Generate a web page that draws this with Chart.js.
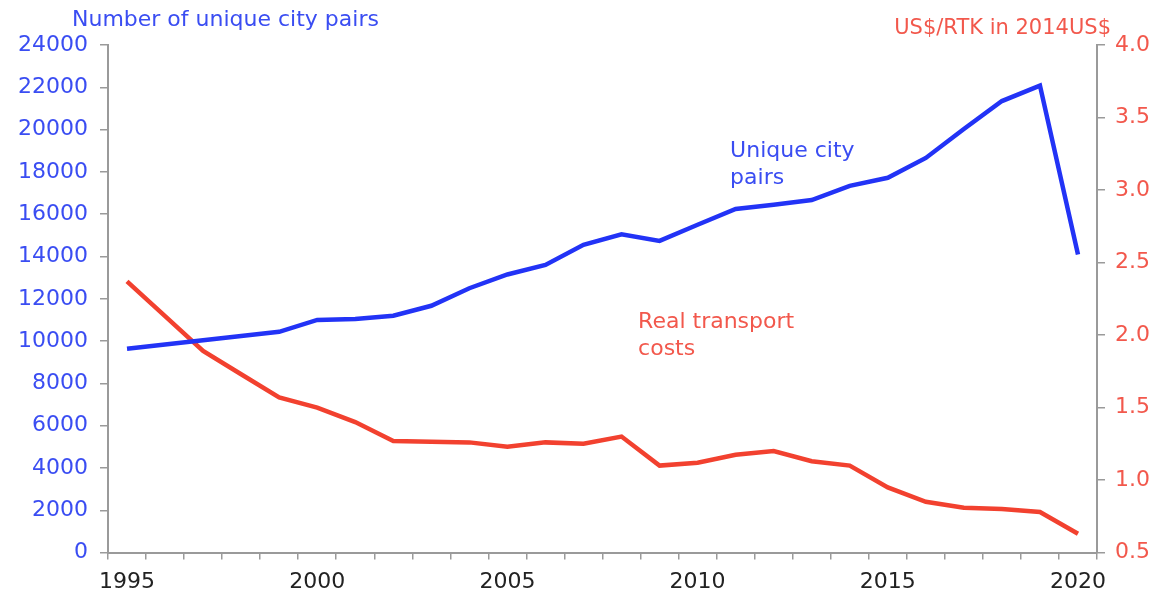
<!DOCTYPE html>
<html>
<head>
<meta charset="utf-8">
<script src="https://cdn.jsdelivr.net/npm/chart.js@4"></script>
<style>
    html, body { margin: 0; padding: 0; background: #fff; }
    #wrap { width: 1164px; height: 594px; position: relative; }
</style>
</head>
<body>
<div id="wrap"><canvas id="pairsChart"></canvas></div>
<script>
const years = ['1995', '1996', '1997', '1998', '1999', '2000', '2001', '2002', '2003', '2004',
    '2005', '2006', '2007', '2008', '2009', '2010', '2011', '2012', '2013', '2014',
    '2015', '2016', '2017', '2018', '2019', '2020'];

// unique city pairs, left axis
const cityPairs = [9640, 9840, 10040, 10240, 10440, 11000, 11050, 11200, 11670, 12500,
    13150, 13600, 14550, 15050, 14740, 15500, 16250, 16450, 16670, 17340,
    17720, 18660, 20030, 21350, 22080, 14100];

// real transport costs, US$/RTK in 2014US$, right axis
const transportCosts = [2.37, 2.13, 1.89, 1.73, 1.57, 1.50, 1.40, 1.27, 1.265, 1.26,
    1.23, 1.26, 1.25, 1.30, 1.10, 1.12, 1.175, 1.20, 1.13, 1.10,
    0.95, 0.85, 0.81, 0.80, 0.78, 0.63];

const leftTitle = 'Number of unique city pairs';
const rightTitle = 'US$/RTK in 2014US$';
const pairsNote = ['Unique city', 'pairs'];
const costNote = ['Real transport', 'costs'];

const BLUE = '#2233f6';
const BLUE_TEXT = '#3a4df2';
const RED = '#f2412f';
const RED_TEXT = '#f2584c';
const AXIS = '#9a9a9a';
const FONT = '"DejaVu Sans", sans-serif';

// titles and in-chart labels
const textPlugin = {
    id: 'chartTexts',
    afterDraw(chart) {
        const { ctx, chartArea: a } = chart;
        const w = a.right - a.left, h = a.bottom - a.top;
        ctx.save();
        ctx.textBaseline = 'middle';

        ctx.font = '22px ' + FONT;
        ctx.fillStyle = BLUE_TEXT;
        ctx.textAlign = 'left';
        ctx.fillText(leftTitle, a.left - 36, a.top - 25);

        ctx.font = '21px ' + FONT;
        ctx.fillStyle = RED_TEXT;
        ctx.textAlign = 'right';
        ctx.fillText(rightTitle, a.right + 14, a.top - 16);

        ctx.font = '22px ' + FONT;
        ctx.textAlign = 'left';
        ctx.fillStyle = BLUE_TEXT;
        pairsNote.forEach((t, i) => ctx.fillText(t, a.left + w * 0.629, a.top + h * 0.209 + i * 27));
        ctx.fillStyle = RED_TEXT;
        costNote.forEach((t, i) => ctx.fillText(t, a.left + w * 0.536, a.top + h * 0.547 + i * 27));
        ctx.restore();
    }
};

const ctx = document.getElementById('pairsChart').getContext('2d');

new Chart(ctx, {
    type: 'line',
    data: {
        labels: years,
        datasets: [{
            label: 'Unique city pairs',
            data: cityPairs,
            borderColor: BLUE,
            borderWidth: 4.5,
            pointRadius: 0,
            tension: 0,
            yAxisID: 'y'
        }, {
            label: 'Real transport costs',
            data: transportCosts,
            borderColor: RED,
            borderWidth: 4.5,
            pointRadius: 0,
            tension: 0,
            yAxisID: 'y1'
        }]
    },
    options: {
        responsive: true,
        maintainAspectRatio: false,
        animation: false,
        layout: { padding: { top: 45, right: 4, bottom: -10, left: 6 } },
        plugins: {
            legend: { display: false },
            tooltip: { enabled: false }
        },
        scales: {
            x: {
                offset: true,
                border: { display: true, color: AXIS, width: 2 },
                grid: { drawOnChartArea: false, drawTicks: true, tickLength: 7, color: AXIS, lineWidth: 1.5, offset: true },
                ticks: {
                    autoSkip: false,
                    maxRotation: 0,
                    color: '#222',
                    padding: 9,
                    font: { family: FONT, size: 22 },
                    callback: function (val, i) {
                        const y = years[i];
                        return Number(y) % 5 === 0 ? y : '';
                    }
                }
            },
            y: {
                position: 'left',
                min: 0,
                max: 24000,
                border: { display: true, color: AXIS, width: 2 },
                grid: { drawOnChartArea: false, drawTicks: true, tickLength: 8, color: AXIS, lineWidth: 1.5 },
                ticks: {
                    stepSize: 2000,
                    color: BLUE_TEXT,
                    padding: 12,
                    font: { family: FONT, size: 22 },
                    callback: v => String(v)
                }
            },
            y1: {
                position: 'right',
                min: 0.5,
                max: 4.0,
                border: { display: true, color: AXIS, width: 2 },
                grid: { drawOnChartArea: false, drawTicks: true, tickLength: 8, color: AXIS, lineWidth: 1.5 },
                ticks: {
                    stepSize: 0.5,
                    color: RED_TEXT,
                    padding: 10,
                    font: { family: FONT, size: 22 },
                    callback: v => v.toFixed(1)
                }
            }
        }
    },
    plugins: [textPlugin]
});
</script>
</body>
</html>
